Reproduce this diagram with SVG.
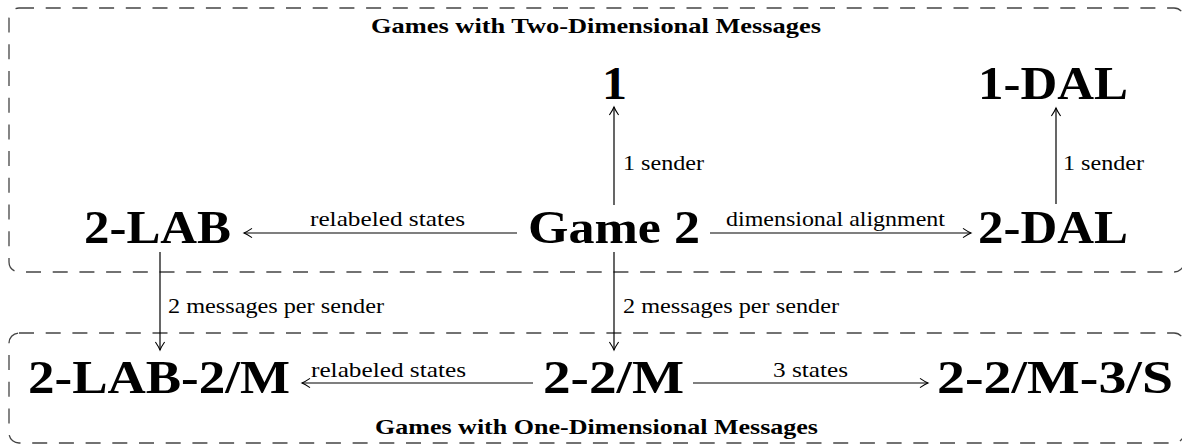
<svg xmlns="http://www.w3.org/2000/svg" width="1182" height="444" viewBox="0 0 1182 444">
  <defs>
    <style>
      .frame { fill: none; stroke: #444; stroke-width: 1.3; stroke-dasharray: 15 11.7; }
      .node { font-family: "Liberation Serif", "Times New Roman", serif; font-weight: bold; font-size: 46px; fill: #000; }
      .title { font-family: "Liberation Serif", "Times New Roman", serif; font-weight: bold; font-size: 21px; fill: #000; }
      .lbl { font-family: "Liberation Serif", "Times New Roman", serif; font-size: 22px; fill: #000; }
      .edge { fill: none; stroke: #000; stroke-width: 1.2; marker-end: url(#arr); }
    </style>
    <marker id="arr" viewBox="-10 -6 12 12" refX="0" refY="0" markerWidth="12" markerHeight="12" markerUnits="userSpaceOnUse" orient="auto">
      <path d="M-8,-4.6 Q-3,-1.2 0,0 Q-3,1.2 -8,4.6" fill="none" stroke="#000" stroke-width="1.1"/>
    </marker>
  </defs>

  <rect width="1182" height="444" fill="#fff"/>

  <!-- group frames -->
  <g id="group-two-dim">
    <rect class="frame" x="9" y="8" width="1175" height="264" rx="10" ry="10"/>
    <text class="title" x="371" y="33" textLength="450" lengthAdjust="spacingAndGlyphs">Games with Two-Dimensional Messages</text>
  </g>
  <g id="group-one-dim">
    <rect class="frame" x="9" y="333" width="1175" height="110" rx="10" ry="10"/>
    <text class="title" x="375" y="434" textLength="443" lengthAdjust="spacingAndGlyphs">Games with One-Dimensional Messages</text>
  </g>

  <!-- nodes -->
  <g id="n-1">
    <text class="node" x="602" y="99" textLength="25" lengthAdjust="spacingAndGlyphs">1</text>
  </g>
  <g id="n-1-dal">
    <text class="node" x="978" y="99" textLength="150" lengthAdjust="spacingAndGlyphs">1-DAL</text>
  </g>
  <g id="n-2-lab">
    <text class="node" x="84" y="243" textLength="147" lengthAdjust="spacingAndGlyphs">2-LAB</text>
  </g>
  <g id="n-game2">
    <text class="node" x="528" y="243" textLength="172" lengthAdjust="spacingAndGlyphs">Game 2</text>
  </g>
  <g id="n-2-dal">
    <text class="node" x="978" y="243" textLength="150" lengthAdjust="spacingAndGlyphs">2-DAL</text>
  </g>
  <g id="n-2-lab-2m">
    <text class="node" x="28" y="393" textLength="262" lengthAdjust="spacingAndGlyphs">2-LAB-2/M</text>
  </g>
  <g id="n-2-2m">
    <text class="node" x="543" y="393" textLength="141" lengthAdjust="spacingAndGlyphs">2-2/M</text>
  </g>
  <g id="n-2-2m-3s">
    <text class="node" x="937" y="393" textLength="236" lengthAdjust="spacingAndGlyphs">2-2/M-3/S</text>
  </g>

  <!-- connectors -->
  <g id="connectors">
    <line class="edge" x1="614" y1="205" x2="614" y2="107"/>
    <text class="lbl" x="623" y="170" textLength="81" lengthAdjust="spacingAndGlyphs">1 sender</text>

    <line class="edge" x1="1056" y1="204" x2="1056" y2="108"/>
    <text class="lbl" x="1063" y="170" textLength="81" lengthAdjust="spacingAndGlyphs">1 sender</text>

    <line class="edge" x1="517" y1="233" x2="244" y2="233"/>
    <text class="lbl" x="310" y="226" textLength="155" lengthAdjust="spacingAndGlyphs">relabeled states</text>

    <line class="edge" x1="710" y1="233" x2="971" y2="233"/>
    <text class="lbl" x="726" y="226" textLength="219" lengthAdjust="spacingAndGlyphs">dimensional alignment</text>

    <line class="edge" x1="160" y1="252" x2="160" y2="350"/>
    <text class="lbl" x="168" y="313" textLength="216" lengthAdjust="spacingAndGlyphs">2 messages per sender</text>

    <line class="edge" x1="614" y1="252" x2="614" y2="350"/>
    <text class="lbl" x="623" y="313" textLength="216" lengthAdjust="spacingAndGlyphs">2 messages per sender</text>

    <line class="edge" x1="533" y1="383" x2="302" y2="383"/>
    <text class="lbl" x="311" y="377" textLength="155" lengthAdjust="spacingAndGlyphs">relabeled states</text>

    <line class="edge" x1="693" y1="383" x2="928" y2="383"/>
    <text class="lbl" x="773" y="377" textLength="75" lengthAdjust="spacingAndGlyphs">3 states</text>
  </g>
</svg>
